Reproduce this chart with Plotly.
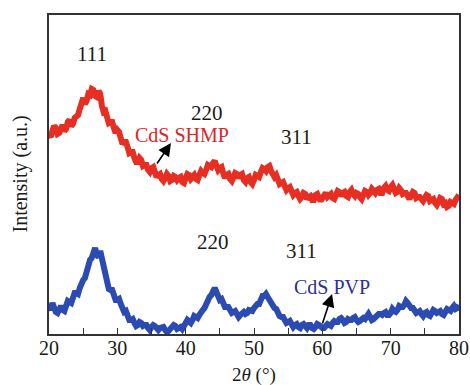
import plotly.graph_objects as go

two_theta = [20 + 0.25 * i for i in range(241)]

cds_shmp = [199, 197, 203, 208, 206, 200, 201, 207, 209, 203, 205, 212, 214, 208, 210, 216,
            217, 219, 225, 232, 236, 230, 233, 240, 239, 245, 244, 238, 237, 243, 240, 228,
            222, 223, 218, 211, 212, 212, 206, 201, 204, 202, 196, 190, 192, 192, 187, 181,
            182, 182, 176, 172, 172, 176, 174, 168, 169, 169, 164, 162, 166, 167, 162, 157,
            159, 160, 155, 153, 156, 160, 158, 153, 154, 158, 157, 154, 156, 157, 152, 151,
            156, 160, 159, 155, 157, 159, 155, 154, 159, 163, 161, 160, 164, 169, 168, 167,
            171, 173, 168, 164, 166, 167, 161, 156, 159, 160, 155, 153, 157, 161, 160, 156,
            159, 160, 154, 152, 156, 157, 152, 150, 154, 159, 158, 157, 162, 166, 165, 163,
            167, 168, 163, 158, 157, 159, 155, 150, 151, 152, 148, 144, 146, 147, 143, 139,
            141, 142, 138, 135, 137, 141, 140, 135, 137, 138, 134, 134, 139, 140, 136, 133,
            136, 140, 141, 137, 139, 140, 136, 135, 139, 143, 142, 138, 141, 142, 138, 137,
            142, 144, 140, 138, 141, 140, 137, 135, 139, 143, 142, 139, 141, 145, 143, 141,
            144, 145, 141, 141, 146, 148, 144, 143, 147, 149, 145, 141, 142, 146, 144, 140,
            141, 141, 138, 135, 139, 142, 141, 136, 137, 137, 135, 133, 136, 139, 138, 133,
            134, 135, 131, 129, 132, 136, 135, 130, 131, 127, 128, 132, 131, 130, 134, 137,
            139]

cds_pvp = [27, 24, 31, 25, 22, 21, 25, 28, 24, 23, 28, 33, 32, 31, 36, 41,
           41, 40, 46, 52, 54, 56, 62, 70, 74, 76, 84, 86, 79, 77, 83, 75,
           62, 59, 52, 45, 44, 44, 39, 34, 34, 35, 30, 24, 22, 23, 19, 14,
           14, 15, 11, 8, 9, 12, 11, 8, 9, 9, 6, 4, 7, 9, 8, 5,
           4, 6, 6, 7, 4, 2, 3, 6, 6, 9, 8, 5, 6, 7, 5, 7,
           11, 14, 13, 11, 14, 18, 17, 16, 19, 23, 24, 26, 31, 36, 37, 39,
           44, 46, 42, 37, 34, 35, 31, 27, 27, 27, 24, 21, 22, 23, 20, 17,
           19, 22, 22, 20, 21, 24, 24, 23, 26, 29, 30, 30, 34, 38, 38, 40,
           37, 34, 33, 31, 26, 25, 21, 18, 17, 17, 14, 11, 12, 13, 10, 7,
           9, 10, 7, 6, 9, 10, 8, 6, 9, 9, 6, 5, 7, 10, 9, 6,
           6, 6, 8, 10, 9, 8, 11, 13, 12, 12, 15, 16, 14, 11, 12, 15,
           14, 14, 16, 17, 14, 12, 13, 16, 16, 15, 18, 20, 17, 14, 15, 17,
           17, 20, 20, 19, 21, 22, 19, 19, 21, 25, 23, 22, 24, 28, 27, 27,
           29, 33, 31, 28, 26, 26, 24, 21, 22, 23, 20, 18, 21, 22, 19, 18,
           21, 24, 23, 21, 22, 23, 20, 19, 22, 25, 24, 23, 26, 28, 25, 26,
           29]

assert len(cds_shmp) == len(two_theta) == len(cds_pvp)

x_ticks = [20, 30, 40, 50, 60, 70, 80]

peak_labels = ["111", "220", "311", "220", "311"]
peak_x = [26.3, 43.1, 56.15, 44.0, 57.0]
peak_y = [280, 221, 197, 92, 83]

sample_names = ["CdS SHMP", "CdS PVP"]
sample_colors = ["#D9262A", "#2E3192"]
name_x = [39.46, 61.42]
name_y = [199, 47]
arrow_tail_x = [35.66, 59.95]
arrow_tail_y = [169, 9]
arrow_head_x = [37.85, 61.42]
arrow_head_y = [191, 40]

FONT = "Liberation Serif"

fig = go.Figure()
fig.add_trace(go.Scatter(x=two_theta, y=cds_shmp, mode="lines",
                         line=dict(color="#E62E22", width=6), showlegend=False))
fig.add_trace(go.Scatter(x=two_theta, y=cds_pvp, mode="lines",
                         line=dict(color="#2B4BB3", width=6), showlegend=False))

annotations = []
for t, x, y in zip(peak_labels, peak_x, peak_y):
    annotations.append(dict(x=x, y=y, xref="x", yref="y", text=t, showarrow=False,
                            font=dict(family=FONT, size=21, color="#1a1a1a")))
for t, c, x, y in zip(sample_names, sample_colors, name_x, name_y):
    annotations.append(dict(x=x, y=y, xref="x", yref="y", text=t, showarrow=False,
                            font=dict(family=FONT, size=20, color=c)))
for tx, ty, hx, hy in zip(arrow_tail_x, arrow_tail_y, arrow_head_x, arrow_head_y):
    annotations.append(dict(x=hx, y=hy, ax=tx, ay=ty, xref="x", yref="y",
                            axref="x", ayref="y", text="", showarrow=True,
                            arrowhead=2, arrowsize=1.6, arrowwidth=1.6,
                            arrowcolor="#000000"))
annotations.append(dict(x=0.5, y=-0.128, xref="paper", yref="paper",
                        xanchor="center", yanchor="middle",
                        text="2<i>θ</i> (°)", showarrow=False,
                        font=dict(family=FONT, size=19, color="#1a1a1a")))
annotations.append(dict(x=-0.0707, y=0.5, xref="paper", yref="paper",
                        xanchor="center", yanchor="middle",
                        text="Intensity (a.u.)", textangle=-90, showarrow=False,
                        font=dict(family=FONT, size=20, color="#1a1a1a")))

fig.update_layout(
    width=470, height=385, autosize=False,
    margin=dict(l=49, r=11, t=15, b=51, autoexpand=False),
    paper_bgcolor="white", plot_bgcolor="white",
    annotations=annotations,
    xaxis=dict(range=[20, 80], tickvals=x_ticks, ticktext=[str(v) for v in x_ticks],
               ticks="inside", ticklen=6, tickwidth=1.3, tickcolor="#333",
               minor=dict(dtick=5, ticks="inside", ticklen=6, tickwidth=1.3, tickcolor="#333"),
               showline=True, linecolor="#333", linewidth=1.5, mirror=True,
               showgrid=False, zeroline=False, ticklabelstandoff=-5, automargin=False,
               tickfont=dict(family=FONT, size=20, color="#1a1a1a")),
    yaxis=dict(range=[0, 319], showticklabels=False, ticks="", automargin=False,
               showline=True, linecolor="#333", linewidth=1.5, mirror=True,
               showgrid=False, zeroline=False),
)

fig.write_html("out.html",
               config={"responsive": False, "displayModeBar": False},
               post_script="document.body.style.margin='0';document.body.style.overflow='hidden';")
